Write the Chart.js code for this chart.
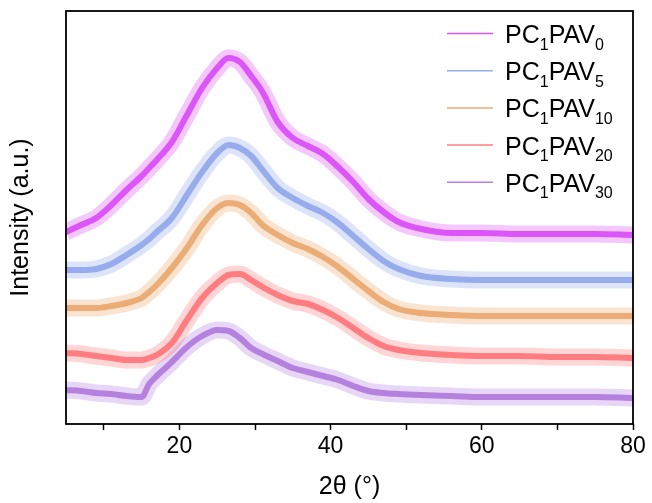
<!DOCTYPE html>
<html>
<head>
<meta charset="utf-8">
<title>XRD</title>
<script src="https://cdn.jsdelivr.net/npm/chart.js@4.4.1/dist/chart.umd.min.js"></script>
<style>
  html, body { margin: 0; padding: 0; background: #fff; }
</style>
</head>
<body>
<canvas id="xrdChart" width="652" height="503"></canvas>
<script>
const twoTheta = [5, 7, 9, 11, 13, 15, 16, 17, 19, 21, 23, 25, 26.5, 28, 29.5, 31, 33, 35, 37, 39, 41, 43, 45, 47, 49, 52, 56, 60, 65, 70, 75, 80];

// stacked intensities (a.u., offsets included as plotted)
const pav0 = [192, 199, 206, 219, 234, 248, 256, 264, 282, 309, 336, 356, 366, 362, 348, 332, 302, 286, 278, 270, 257, 242, 225, 212, 202, 195, 191, 191, 190, 190, 190, 189];
const pav5 = [154, 154, 155, 160, 169, 179, 185, 192, 206, 229, 252, 271, 279, 276, 268, 254, 236, 226, 218, 211, 201, 188, 175, 163, 155, 148, 145, 144, 144, 144, 144, 144];
const pav10 = [116, 116, 116, 118, 121, 126, 132, 139, 156, 176, 199, 216, 221, 219, 211, 199, 189, 181, 175, 167, 157, 145, 133, 122, 115, 111, 109, 108, 108, 108, 108, 108];
const pav20 = [71, 70, 68, 66, 64, 64, 66, 69, 81, 104, 126, 141, 149, 150, 144, 137, 129, 123, 120, 114, 106, 96, 86, 78, 74, 71, 69, 68, 68, 67, 67, 66];
const pav30 = [34, 33, 31, 30, 28, 27, 40, 48, 62, 77, 88, 94, 93, 86, 76, 70, 63, 56, 52, 48, 44, 38, 33, 31, 30, 29, 28, 27, 27, 27, 27, 26];

const xTicks = [10, 20, 30, 40, 50, 60, 70, 80];

// legend text split as [main, subscript] pairs
const labelParts = [
  [["PC", "1"], ["PAV", "0"]],
  [["PC", "1"], ["PAV", "5"]],
  [["PC", "1"], ["PAV", "10"]],
  [["PC", "1"], ["PAV", "20"]],
  [["PC", "1"], ["PAV", "30"]],
];
const seriesValues = [pav0, pav5, pav10, pav20, pav30];
const seriesRgb = ["214, 56, 248", "134, 158, 232", "232, 158, 94", "255, 104, 108", "168, 108, 218"];

const FONT = "'Liberation Sans', Arial, sans-serif";

function toPoints(values) {
  return twoTheta.map((x, i) => ({ x, y: values[i] }));
}

const datasets = [];
seriesValues.forEach((values, i) => {
  const rgb = seriesRgb[i];
  // wide pale band for the noise spread, then a solid core
  datasets.push({
    data: toPoints(values),
    borderColor: `rgba(${rgb}, 0.28)`,
    borderWidth: 17,
    pointRadius: 0,
    cubicInterpolationMode: "monotone",
    borderJoinStyle: "round",
  });
  datasets.push({
    data: toPoints(values),
    borderColor: `rgba(${rgb}, 0.8)`,
    borderWidth: 6,
    pointRadius: 0,
    cubicInterpolationMode: "monotone",
    borderJoinStyle: "round",
  });
});

const frameAndLegend = {
  id: "frameAndLegend",
  afterDatasetsDraw(chart) {
    const { ctx, chartArea: a } = chart;
    ctx.save();
    ctx.strokeStyle = "#000";
    ctx.lineWidth = 1.8;
    ctx.strokeRect(a.left, a.top, a.right - a.left, a.bottom - a.top);

    const lineX0 = 447;
    const lineX1 = 493;
    const textX = 505;
    const rowY0 = 33.5;
    const rowGap = 37.2;
    labelParts.forEach((parts, i) => {
      const y = rowY0 + i * rowGap;
      ctx.strokeStyle = `rgba(${seriesRgb[i]}, 0.85)`;
      ctx.lineWidth = 1.5;
      ctx.beginPath();
      ctx.moveTo(lineX0, y);
      ctx.lineTo(lineX1, y);
      ctx.stroke();

      ctx.fillStyle = "#000";
      ctx.textBaseline = "alphabetic";
      ctx.textAlign = "left";
      let x = textX;
      parts.forEach(([main, sub]) => {
        ctx.font = `25px ${FONT}`;
        ctx.fillText(main, x, y + 9.5);
        x += ctx.measureText(main).width;
        ctx.font = `16px ${FONT}`;
        ctx.fillText(sub, x, y + 16);
        x += ctx.measureText(sub).width;
      });
    });
    ctx.restore();
  },
};

new Chart(document.getElementById("xrdChart"), {
  type: "line",
  data: { datasets },
  options: {
    responsive: false,
    animation: false,
    layout: { padding: { top: 11, right: 19, left: 0, bottom: 0 } },
    plugins: {
      legend: { display: false },
      tooltip: { enabled: false },
    },
    scales: {
      x: {
        type: "linear",
        min: 5,
        max: 80,
        afterBuildTicks: (scale) => {
          scale.ticks = xTicks.map((value) => ({ value }));
        },
        afterFit: (scale) => {
          scale.height = 79;
        },
        ticks: {
          autoSkip: false,
          maxRotation: 0,
          color: "#000",
          padding: 3,
          font: { family: FONT, size: 23 },
          callback: (value) => (value % 20 === 0 ? String(value) : ""),
        },
        grid: {
          drawOnChartArea: false,
          drawTicks: true,
          tickLength: 6,
          tickColor: "#000",
          tickWidth: 1.5,
        },
        border: { display: false },
        title: {
          display: true,
          text: "2θ (°)",
          color: "#000",
          font: { family: FONT, size: 25 },
          padding: { top: 0, bottom: 1 },
        },
      },
      y: {
        min: 0,
        max: 413,
        afterFit: (scale) => {
          scale.width = 66;
        },
        ticks: { display: false },
        grid: { display: false, drawTicks: false },
        border: { display: false },
        title: {
          display: true,
          text: "Intensity (a.u.)",
          color: "#000",
          font: { family: FONT, size: 25 },
          padding: { top: 6, bottom: 0 },
        },
      },
    },
  },
  plugins: [frameAndLegend],
});
</script>
</body>
</html>
